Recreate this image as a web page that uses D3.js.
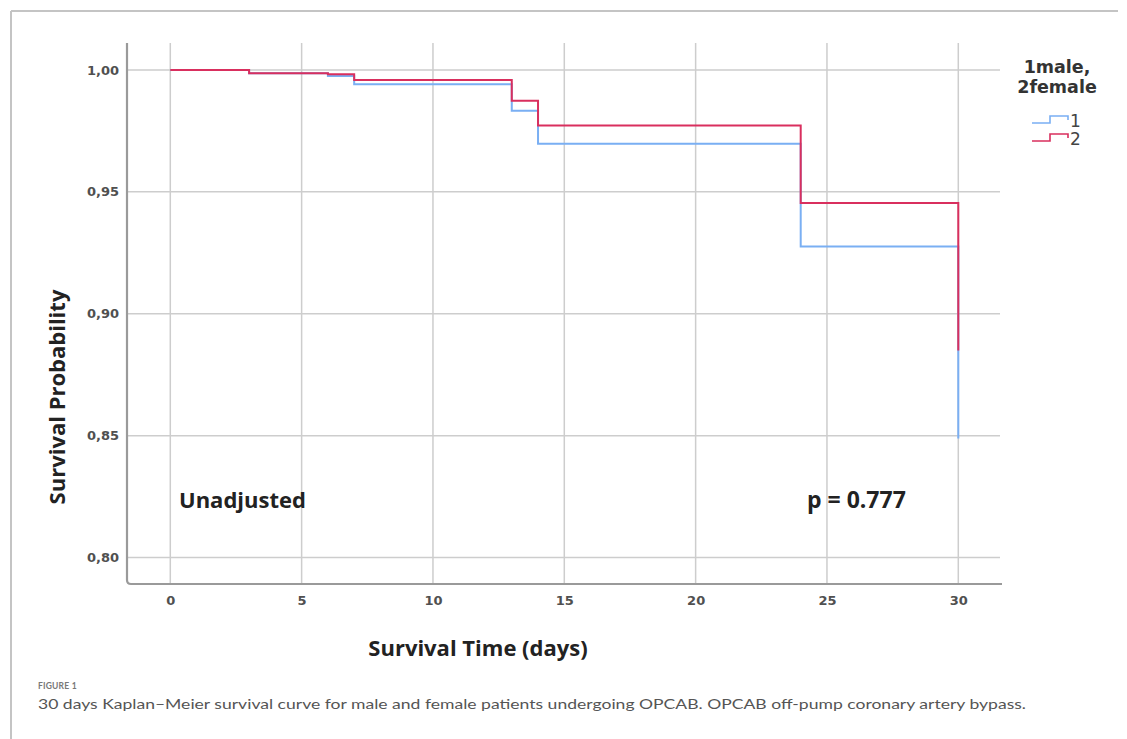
<!DOCTYPE html>
<html>
<head>
<meta charset="utf-8">
<script src="https://cdn.jsdelivr.net/npm/d3@7"></script>
<style>
  body { margin: 0; background: #fff; }
  svg { display: block; }
</style>
</head>
<body>
<svg id="chart" width="1127" height="739"></svg>
<script>
// step times (days) and Kaplan-Meier survival
const days = [0, 3, 6, 7, 13, 14, 24, 30];
const male = [1.000, 0.9986, 0.9975, 0.9941, 0.9832, 0.9697, 0.9276, 0.8488];
const female = [1.000, 0.9986, 0.9982, 0.9959, 0.9873, 0.9772, 0.9454, 0.8849];
const xTicks = [0, 5, 10, 15, 20, 25, 30];
const yTicks = [0.80, 0.85, 0.90, 0.95, 1.00];
const groups = ["1", "2"];
const colors = ["#7aaff3", "#d92f5e"];

const svg = d3.select("#chart");

// outer frame (top and left edges are visible)
svg.append("line").attr("x1", 11).attr("x2", 1118).attr("y1", 11).attr("y2", 11)
    .attr("stroke", "#c4c4c4").attr("stroke-width", 2);
svg.append("line").attr("x1", 11).attr("x2", 11).attr("y1", 11).attr("y2", 739)
    .attr("stroke", "#c4c4c4").attr("stroke-width", 2);

const x = d3.scaleLinear().domain([0, 30]).range([170.3, 958.3]);
const y = d3.scaleLinear().domain([0.80, 1.00]).range([557.6, 69.9]);

const plotL = 127, plotR = 1002, plotT = 43, plotB = 584;

// grid
const grid = svg.append("g");
grid.selectAll(".vg").data(xTicks).enter().append("line")
    .attr("x1", d => x(d)).attr("x2", d => x(d))
    .attr("y1", plotT).attr("y2", plotB)
    .attr("stroke", "#cdcdcd").attr("stroke-width", 1.5);
grid.selectAll(".hg").data(yTicks).enter().append("line")
    .attr("x1", plotL).attr("x2", plotR - 2)
    .attr("y1", d => y(d)).attr("y2", d => y(d))
    .attr("stroke", "#cdcdcd").attr("stroke-width", 1.5);

// axes
const xAxis = d3.axisBottom(x).tickValues(xTicks).tickSize(0).tickPadding(12)
    .tickFormat(d3.format("d"));
const gx = svg.append("g").attr("transform", `translate(0,${plotB})`).call(xAxis);
gx.select(".domain").remove();

const yAxis = d3.axisLeft(y).tickValues(yTicks).tickSize(0).tickPadding(8)
    .tickFormat(d => d3.format(".2f")(d).replace(".", ","));
const gy = svg.append("g").attr("transform", `translate(${plotL},0)`).call(yAxis);
gy.select(".domain").remove();

svg.selectAll(".tick text")
    .attr("font-family", "DejaVu Sans, sans-serif")
    .attr("font-size", 13).attr("font-weight", "bold").attr("fill", "#505050");

svg.append("path")
    .attr("d", `M${plotL},${plotT}V${plotB - 4}Q${plotL},${plotB} ${plotL + 4},${plotB}H${plotR}`)
    .attr("fill", "none").attr("stroke", "#9a9a9a").attr("stroke-width", 2.2);

// survival curves
const line = d3.line().x(d => x(d[0])).y(d => y(d[1])).curve(d3.curveStepAfter);
[male, female].forEach((s, i) => {
    svg.append("path")
        .datum(days.map((d, j) => [d, s[j]]))
        .attr("d", line)
        .attr("fill", "none")
        .attr("stroke", colors[i])
        .attr("stroke-width", 2);
});

// titles and annotations
const titleFont = "Open Sans, Noto Sans, sans-serif";
svg.append("text").attr("transform", "translate(65,397) rotate(-90)")
    .attr("text-anchor", "middle").attr("font-family", titleFont)
    .attr("font-size", 22).attr("font-weight", "bold").attr("fill", "#222")
    .text("Survival Probability");
svg.append("text").attr("x", 478).attr("y", 656)
    .attr("text-anchor", "middle").attr("font-family", titleFont)
    .attr("font-size", 22).attr("font-weight", "bold").attr("fill", "#222")
    .text("Survival Time (days)");
svg.append("text").attr("x", 179).attr("y", 508)
    .attr("font-family", titleFont).attr("font-size", 22).attr("font-weight", "bold")
    .attr("fill", "#222").text("Unadjusted");
svg.append("text").attr("x", 807).attr("y", 508)
    .attr("font-family", titleFont).attr("font-size", 23).attr("font-weight", "bold")
    .attr("fill", "#222").text("p = 0.777");

// legend
const legFont = "DejaVu Sans, sans-serif";
const leg = svg.append("g");
leg.append("text").attr("x", 1057).attr("y", 73).attr("text-anchor", "middle")
    .attr("font-family", legFont).attr("font-size", 17.5).attr("font-weight", "bold")
    .attr("fill", "#333").text("1male,");
leg.append("text").attr("x", 1057).attr("y", 93).attr("text-anchor", "middle")
    .attr("font-family", legFont).attr("font-size", 17.5).attr("font-weight", "bold")
    .attr("fill", "#333").text("2female");
groups.forEach((g, i) => {
    const cy = 120 + i * 18;
    leg.append("path")
        .attr("d", `M1032,${cy + 3}H1050V${cy - 4}H1068V${cy}`)
        .attr("fill", "none").attr("stroke", colors[i]).attr("stroke-width", 1.6);
    leg.append("text").attr("x", 1070).attr("y", cy + 7)
        .attr("font-family", legFont).attr("font-size", 17)
        .attr("fill", "#444").text(g);
});

// figure caption
svg.append("text").attr("x", 38).attr("y", 689)
    .attr("font-family", "Lato, sans-serif").attr("font-size", 8.5).attr("font-weight", "bold")
    .attr("fill", "#777").attr("letter-spacing", 0.2).text("FIGURE 1");
svg.append("text").attr("x", 38).attr("y", 709)
    .attr("font-family", "Lato, sans-serif").attr("font-size", 12.5)
    .attr("fill", "#555").attr("textLength", 988).attr("lengthAdjust", "spacingAndGlyphs")
    .text("30 days Kaplan\u2013Meier survival curve for male and female patients undergoing OPCAB. OPCAB off-pump coronary artery bypass.");
</script>
</body>
</html>
